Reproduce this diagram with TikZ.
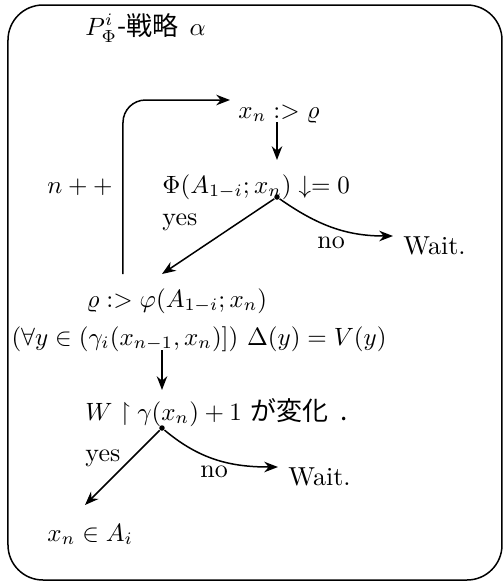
\documentclass[tikz,border=0pt]{standalone}
\usepackage{amssymb}
\usepackage{fontspec}
\newfontfamily\jpfont{Noto Sans CJK JP}
\usetikzlibrary{
  arrows.meta,
  calc
}

\begin{document}
\begin{tikzpicture}[
      x=0.4pt, y=-0.4pt,
      txt/.style={anchor=base west, inner sep=0pt, font=\fontsize{10.4}{12.5}\selectfont},
      arrow/.style={-{Stealth[length=5.5pt, width=4.2pt]}, line width=0.6pt},
      dot/.style={circle, fill=black, inner sep=0pt, minimum size=2.2pt}
    ]
      \useasboundingbox (0,0) rectangle (503,583);

      % Frame
      \draw[line width=0.6pt, rounded corners=14pt] (8,5) rectangle (502,580);

      % Texts
      \node[txt] (title) at (85,35) {$P^i_\Phi$\jpfont -戦略\ \ \rmfamily$\alpha$};
      \node[txt] (xrho) at (238,118) {$x_n :> \varrho$};
      \node[txt] (npp) at (47,193) {$n++$};
      \node[txt] (phi) at (162,193) {$\Phi(A_{1-i};x_n)\downarrow= 0$};
      \node[txt] (yes1) at (162,225) {yes};
      \node[txt] (no1) at (317,248) {no};
      \node[txt] (wait1) at (403,254) {Wait.};
      \node[txt] (rho) at (86,307) {$\varrho :> \varphi(A_{1-i};x_n)$};
      \node[txt] (forall) at (11,345) {$(\forall y\in(\gamma_i(x_{n-1},x_n)])\ \Delta(y)=V(y)$};
      \node[txt] (wcond) at (85,420) {$W\restriction\gamma(x_n)+1$ {\jpfont が変化\ \ .}};
      \node[txt] (yes2) at (85,461) {yes};
      \node[txt] (no2) at (200,477) {no};
      \node[txt] (wait2) at (288,485) {Wait.};
      \node[txt] (xin) at (47,541) {$x_n\in A_i$};

      % Branch points
      \node[dot] (d1) at ($(phi.base west)+(115,4)$) {};
      \node[dot] (d2) at ($(wcond.base west)+(77,8)$) {};

      % Loop back
      \draw[arrow, rounded corners=9pt] ($(rho.base west)+(37,-33)$) |- ($(xrho.base west)+(-8,-18)$);

      % Flow
      \draw[arrow] ($(xrho.base west)+(39,4)$) -- ($(phi.base west)+(115,-33)$);
      \draw[arrow] (d1) -- ($(rho.base west)+(76,-33)$);
      \draw[arrow] (d1) to[out=-35, in=180] ($(wait1.base west)+(-10,-18)$);
      \draw[arrow] ($(forall.base west)+(151,5)$) -- ($(wcond.base west)+(77,-30)$);
      \draw[arrow] (d2) -- ($(xin.base west)+(38,-36)$);
      \draw[arrow] (d2) to[out=-40, in=180] ($(wait2.base west)+(-10,-18)$);
    \end{tikzpicture}
\end{document}
